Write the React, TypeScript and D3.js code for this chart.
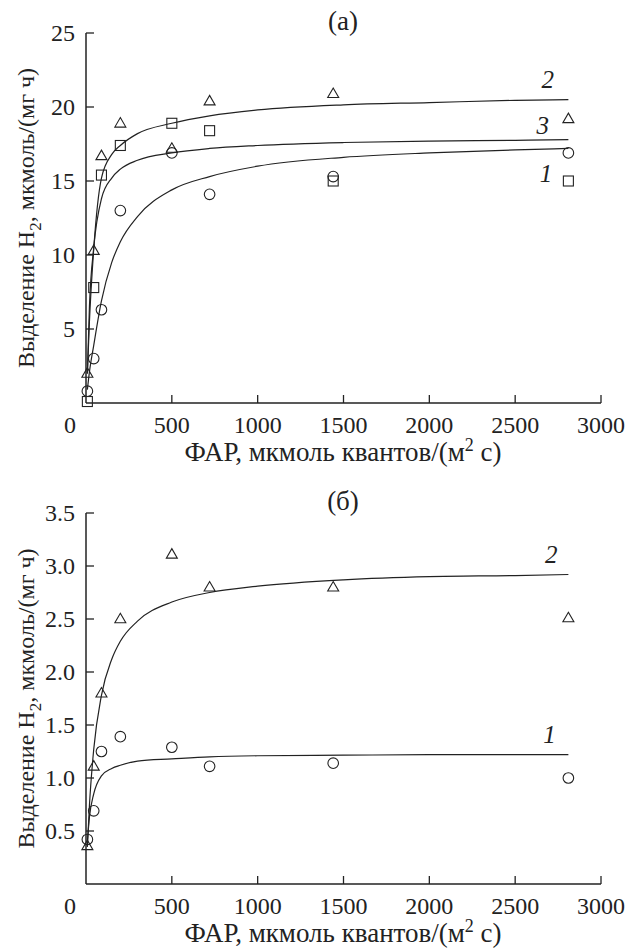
import React from "react";
import * as d3 from "d3";

// Light intensity (x values of measured points)
const X_LIGHT = [8, 45, 90, 200, 500, 720, 1440, 2810];

// Panel (a) measured points
const A_S1 = [0.8, 3.0, 6.3, 13.0, 16.9, 14.1, 15.3, 16.9]; // circles
const A_S2 = [2.0, 10.3, 16.7, 18.9, 17.2, 20.4, 20.9, 19.2]; // triangles
const A_S3 = [0.1, 7.8, 15.4, 17.4, 18.9, 18.4, 15.0, 15.0]; // squares

// Panel (б) measured points
const B_S1 = [0.42, 0.69, 1.25, 1.39, 1.29, 1.11, 1.14, 1.0]; // circles
const B_S2 = [0.36, 1.11, 1.8, 2.5, 3.11, 2.8, 2.8, 2.51]; // triangles

// Fitted curves
const CURVE_X = [8, 20, 45, 90, 150, 200, 300, 500, 720, 1000, 1500, 2000, 2500, 2810];
const A_C1 = [0.9, 2.1, 3.9, 6.9, 9.5, 10.9, 12.6, 14.4, 15.3, 16.0, 16.6, 16.9, 17.1, 17.2];
const A_C2 = [2.0, 5.5, 10.4, 15.2, 16.8, 17.4, 18.2, 18.9, 19.4, 19.8, 20.15, 20.3, 20.45, 20.5];
const A_C3 = [2.0, 6.5, 10.5, 13.8, 15.2, 15.8, 16.4, 16.9, 17.2, 17.4, 17.6, 17.7, 17.75, 17.8];
const B_C1 = [0.4, 0.63, 0.85, 1.02, 1.09, 1.12, 1.16, 1.18, 1.2, 1.21, 1.215, 1.22, 1.22, 1.22];
const B_C2 = [0.35, 0.74, 1.27, 1.78, 2.12, 2.29, 2.48, 2.66, 2.75, 2.81, 2.87, 2.9, 2.91, 2.92];

// Ticks
const X_TICKS = [0, 500, 1000, 1500, 2000, 2500, 3000];
const A_Y_TICKS = [5, 10, 15, 20, 25];
const B_Y_TICKS = [0.5, 1.0, 1.5, 2.0, 2.5, 3.0, 3.5];

// Curve labels: [label, x, y]
const A_LABELS: [string, number, number][] = [["2", 2690, 21.3], ["3", 2660, 18.2], ["1", 2680, 14.9]];
const B_LABELS: [string, number, number][] = [["2", 2710, 3.03], ["1", 2700, 1.33]];

const FONT = "'Liberation Serif', 'DejaVu Serif', serif";

type Series = { values: number[]; shape: "circle" | "triangle" | "square" };

function Marker({ shape, x, y }: { shape: string; x: number; y: number }) {
  const st = { fill: "none", stroke: "#222", strokeWidth: 1.1 };
  if (shape === "circle") return <circle cx={x} cy={y} r={5.3} {...st} />;
  if (shape === "square") return <rect x={x - 5} y={y - 5} width={10} height={10} {...st} />;
  const h = 9.5, w = 11;
  return (
    <path
      d={`M${x},${y - h * 0.6} L${x + w / 2},${y + h * 0.4} L${x - w / 2},${y + h * 0.4} Z`}
      {...st}
    />
  );
}

function Panel({
  top,
  bottom,
  yMax,
  yTicks,
  yFmt,
  series,
  curves,
  labels,
  title,
}: {
  top: number;
  bottom: number;
  yMax: number;
  yTicks: number[];
  yFmt: (v: number) => string;
  series: Series[];
  curves: number[][];
  labels: [string, number, number][];
  title: string;
}) {
  const x = d3.scaleLinear().domain([0, 3000]).range([86, 601]);
  const y = d3.scaleLinear().domain([0, yMax]).range([bottom, top]);
  const line = d3
    .line<number>()
    .x((_, i) => x(CURVE_X[i]))
    .y((d) => y(d))
    .curve(d3.curveMonotoneX);
  const x0 = x(0);
  const yMid = (top + bottom) / 2;
  return (
    <g fontFamily={FONT} fill="#222">
      {/* axes */}
      <line x1={x0} x2={x0} y1={y(0)} y2={y(yMax)} stroke="#222" strokeWidth={1.5} />
      <line x1={x0} x2={x(3000)} y1={y(0)} y2={y(0)} stroke="#222" strokeWidth={1.5} />
      {X_TICKS.map((t) => (
        <g key={"x" + t}>
          {t > 0 && <line x1={x(t)} x2={x(t)} y1={y(0)} y2={y(0) - 8} stroke="#222" strokeWidth={1.3} />}
          <text x={t === 0 ? x(t) - 16 : x(t)} y={y(0) + 30} fontSize={24} textAnchor="middle">
            {t}
          </text>
        </g>
      ))}
      {yTicks.map((t) => (
        <g key={"y" + t}>
          <line x1={x0} x2={x0 + 8} y1={y(t)} y2={y(t)} stroke="#222" strokeWidth={1.3} />
          <text x={x0 - 11} y={y(t)} dy="0.34em" fontSize={24} textAnchor="end">
            {yFmt(t)}
          </text>
        </g>
      ))}
      {/* axis titles */}
      <text x={343} y={y(0) + 58} fontSize={27} textAnchor="middle">
        ФАР, мкмоль квантов/(м<tspan dy={-10} fontSize={18}>2</tspan>
        <tspan dy={10}> с)</tspan>
      </text>
      <text
        transform={`translate(34,${yMid}) rotate(-90)`}
        fontSize={24}
        textAnchor="middle"
      >
        Выделение H<tspan dy={7} fontSize={17}>2</tspan>
        <tspan dy={-7}>, мкмоль/(мг ч)</tspan>
      </text>
      <text x={343} y={top - 3} fontSize={27} textAnchor="middle">
        {title}
      </text>
      {/* curves */}
      {curves.map((c, i) => (
        <path key={"c" + i} d={line(c) || ""} fill="none" stroke="#222" strokeWidth={1.2} />
      ))}
      {/* points */}
      {series.map((s, si) =>
        s.values.map((v, i) => <Marker key={si + "-" + i} shape={s.shape} x={x(X_LIGHT[i])} y={y(v)} />)
      )}
      {labels.map(([l, lx, ly]) => (
        <text key={"l" + l} x={x(lx)} y={y(ly)} fontSize={25} fontStyle="italic" textAnchor="middle">
          {l}
        </text>
      ))}
    </g>
  );
}

export default function App() {
  return (
    <svg
      width={642}
      height={949}
      style={{ position: "absolute", left: 0, top: 0, background: "#fff" }}
    >
      <rect width={642} height={949} fill="#fff" />
      <Panel
        top={33}
        bottom={403}
        yMax={25}
        yTicks={A_Y_TICKS}
        yFmt={(v) => String(v)}
        series={[
          { values: A_S1, shape: "circle" },
          { values: A_S2, shape: "triangle" },
          { values: A_S3, shape: "square" },
        ]}
        curves={[A_C1, A_C2, A_C3]}
        labels={A_LABELS}
        title="(а)"
      />
      <Panel
        top={513}
        bottom={884}
        yMax={3.5}
        yTicks={B_Y_TICKS}
        yFmt={(v) => v.toFixed(1)}
        series={[
          { values: B_S1, shape: "circle" },
          { values: B_S2, shape: "triangle" },
        ]}
        curves={[B_C1, B_C2]}
        labels={B_LABELS}
        title="(б)"
      />
    </svg>
  );
}
